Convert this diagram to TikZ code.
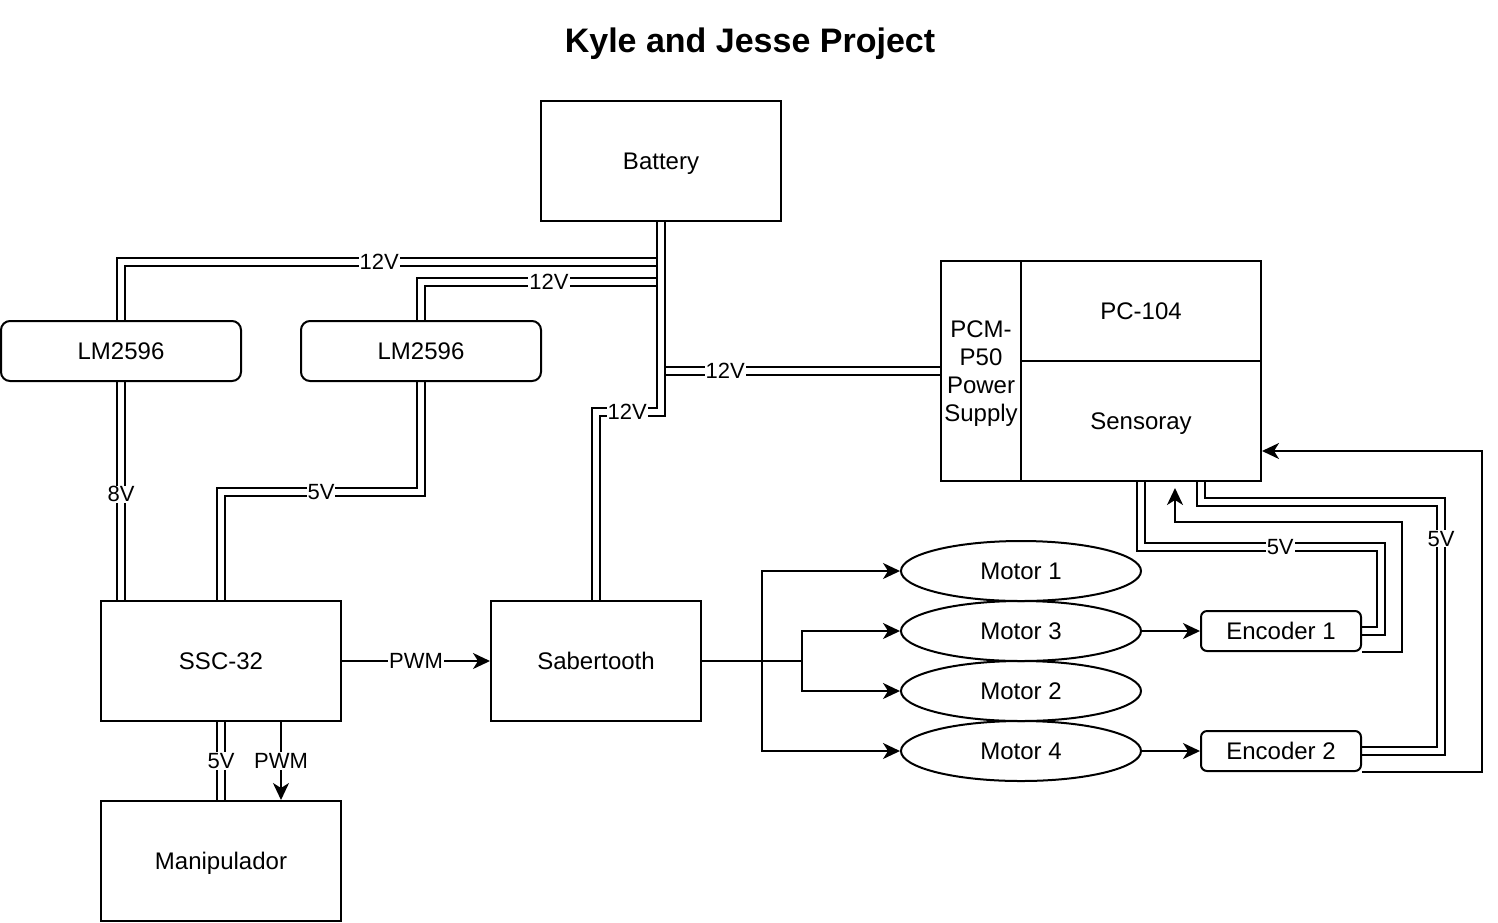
\documentclass[tikz,border=0pt]{standalone}
\usepackage{fontspec}
\setmainfont{Liberation Sans}
\usetikzlibrary{shapes.geometric,arrows.meta,calc,backgrounds}
\begin{document}
\begin{tikzpicture}[x=1pt,y=-1pt,
  box/.style={draw, line width=2pt, minimum width=240pt, minimum height=120pt, inner sep=0pt, align=center, text depth=0pt, font=\fontsize{24}{28}\selectfont},
  rbox/.style={box, rounded corners=9pt, minimum height=60pt},
  ebox/.style={box, rounded corners=6pt, minimum width=160pt, minimum height=40pt},
  motor/.style={draw, ellipse, line width=2pt, minimum width=240pt, minimum height=60pt, inner sep=0pt, text depth=0pt, font=\fontsize{24}{28}\selectfont},
  dbl/.style={double, double distance=5.5pt, line width=2pt},
  wire/.style={line width=2pt},
  arr/.style={wire, -{Stealth[length=17pt,width=16pt,inset=5pt]}},
  lbl/.style={fill=white, inner sep=1pt, text depth=0pt, font=\fontsize{22}{26}\selectfont}
]
\useasboundingbox (0,0) rectangle (1498,922);
\node[font=\bfseries\fontsize{34}{40}\selectfont, text depth=0pt] (title) at (750,40) {Kyle and Jesse Project};

\node[box] (bat) at (661,161) {Battery};
\node[rbox] (lm1) at (121,351) {LM2596};
\node[rbox] (lm2) at (421,351) {LM2596};
\node[box, minimum width=80pt, minimum height=220pt] (pcm) at (981,371) {PCM-\\P50\\Power\\Supply};
\node[box, minimum height=100pt] (pc) at (1141,311) {PC-104};
\node[box] (sens) at (1141,421) {Sensoray};
\node[box] (ssc) at (221,661) {SSC-32};
\node[box, minimum width=210pt] (sab) at (596,661) {Sabertooth};
\node[box] (man) at (221,861) {Manipulador};
\node[motor] (m1) at (1021,571) {Motor 1};
\node[motor] (m3) at (1021,631) {Motor 3};
\node[motor] (m2) at (1021,691) {Motor 2};
\node[motor] (m4) at (1021,751) {Motor 4};
\node[ebox] (e1) at (1281,631) {Encoder 1};
\node[ebox] (e2) at (1281,751) {Encoder 2};

\begin{pgfonlayer}{background}
% battery distribution
\draw[dbl] (bat.south) -- ++(0,40) coordinate (j1) -- node[lbl,pos=0.522]{12V} (j1 -| lm1.north) -- (lm1.north);
\draw[dbl] (bat.south) -- ++(0,60) coordinate (j2) -- node[lbl,pos=0.467]{12V} (j2 -| lm2.north) -- (lm2.north);
\draw[dbl] (bat.south) -- (bat.south |- pcm.west) -- node[lbl,pos=0.23]{12V} (pcm.west);
\draw[dbl] (bat.south) -- ++(0,190) coordinate (j4) -- node[lbl,pos=0.52]{12V} (j4 -| sab.north) -- (sab.north);
% regulators
\draw[dbl] (lm1.south) -- node[lbl,pos=0.515]{8V} (lm1.south |- ssc.north);
\draw[dbl] (lm2.south) -- ++(0,110) coordinate (j6) -- node[lbl]{5V} (j6 -| ssc.north) -- (ssc.north);
\draw[dbl] (ssc.south) -- node[lbl]{5V} (man.north);
% PWM
\draw[arr] (ssc.east) -- node[lbl]{PWM} (sab.west);
\draw[arr] ($(ssc.south)+(60,0)$) -- node[lbl]{PWM} ($(man.north)+(60,0)$);
% motors
\draw[arr] (sab.east) -- ++(60,0) |- (m1.west);
\draw[arr] (sab.east) -- ++(60,0) |- (m4.west);
\draw[arr] (sab.east) -- ++(100,0) |- (m3.west);
\draw[arr] (sab.east) -- ++(100,0) |- (m2.west);
\draw[arr] (m3.east) -- (e1.west);
\draw[arr] (m4.east) -- (e2.west);
% encoders power
\draw[dbl] (sens.south) -- ++(0,65) coordinate (j8) -- node[lbl,pos=0.58]{5V} ++(240,0) coordinate (k8) -- (k8 |- e1.east) -- (e1.east);
\draw[dbl] ($(sens.south)+(60,0)$) -- ++(0,20) coordinate (j9) -- ++(240,0) coordinate (k9) -- node[lbl,pos=0.148]{5V} (k9 |- e2.east) -- (e2.east);
% encoder signals
\draw[arr] (e1.south east) -- ++(40,0) |- ($(sens.south)+(34,40)$) -- ($(sens.south)+(34,6)$);
\draw[arr] (e2.south east) -- ++(120,0) |- ($(sens.east)+(0,30)$);
\end{pgfonlayer}
\end{tikzpicture}
\end{document}
